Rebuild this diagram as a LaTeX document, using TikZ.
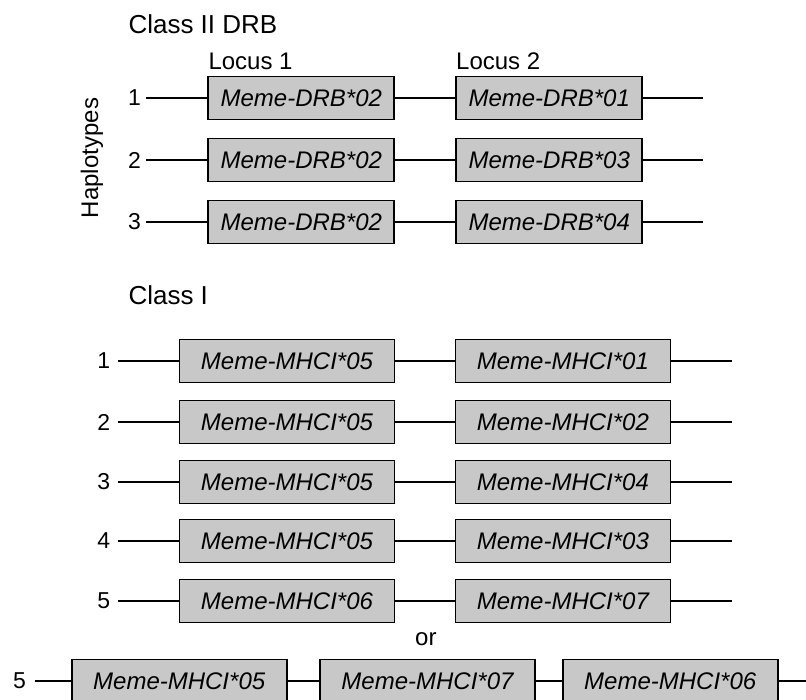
\documentclass[tikz,border=0pt]{standalone}
\usepackage{fontspec}
\setmainfont{Liberation Sans}
\usepackage{tikz}
\usetikzlibrary{positioning}
\definecolor{genegray}{RGB}{200,200,200}

\begin{document}
\begin{tikzpicture}[x=1pt,y=-1pt,
        gene/.style={draw,line width=1.8pt,fill=genegray,minimum height=43pt,inner sep=0pt,font=\fontsize{24}{28}\selectfont\itshape},
        drb/.style={gene,minimum width=186pt},
        mhc/.style={gene,minimum width=215pt},
        hap/.style={font=\fontsize{23}{27}\selectfont,inner ysep=0pt,inner xsep=5pt,anchor=east},
        title/.style={font=\fontsize{26}{30}\selectfont,inner sep=0pt,anchor=base west},
        locus/.style={title,font=\fontsize{24}{28}\selectfont},
        link/.style={line width=2pt}]
        % frame
        \useasboundingbox (0,0) rectangle (806,700);

        % class II headings
        \node[title] (drbhead) at (128.3,33.3) {Class II DRB};
        \node[locus] (locA) at (208.3,70) {Locus 1};
        \node[locus] (locB) at (456,69.5) {Locus 2};
        \node[font=\fontsize{24}{28}\selectfont,rotate=90] (haplo) at (92,158) {Haplotypes};

        % class II haplotypes
        \foreach \r/\y/\b in {1/98/01, 2/160/03, 3/222/04}
        {
            \node[hap] (dn\r) at (146,\y) {\r};
            \node[drb] (da\r) at (301.3,\y) {Meme-DRB*02};
            \node[drb] (db\r) at (549.2,\y) {Meme-DRB*\b};
            \coordinate (de\r) at (703.3,\y);
            \draw[link] (dn\r.east) -- (da\r.west) (da\r.east) -- (db\r.west) (db\r.east) -- (de\r);
        }

        % class I heading
        \node[title] (clhead) at (128.3,304.3) {Class I};

        % class I haplotypes
        \foreach \r/\y/\a/\b in {1/361/05/01, 2/422/05/02, 3/482/05/04, 4/541/05/03, 5/601/06/07}
        {
            \node[hap,inner xsep=8pt] (cn\r) at (118.3,\y) {\r};
            \node[mhc] (ca\r) at (287,\y) {Meme-MHCI*\a};
            \node[mhc] (cb\r) at (562.9,\y) {Meme-MHCI*\b};
            \coordinate (ce\r) at (731.7,\y);
            \draw[link] (cn\r.east) -- (ca\r.west) (ca\r.east) -- (cb\r.west) (cb\r.east) -- (ce\r);
        }

        % alternative for 5
        \node[locus] (ortext) at (415,645.7) {or};
        \node[hap,inner xsep=9pt] (alt) at (35,681) {5};
        \node[mhc] (alta) at (179.2,681) {Meme-MHCI*05};
        \node[mhc] (altb) at (427.5,681) {Meme-MHCI*07};
        \node[mhc] (altc) at (670.2,681) {Meme-MHCI*06};
        \coordinate (alte) at (806,681);
        \draw[link] (alt.east) -- (alta.west) (alta.east) -- (altb.west) (altb.east) -- (altc.west) (altc.east) -- (alte);
\end{tikzpicture}
\end{document}
